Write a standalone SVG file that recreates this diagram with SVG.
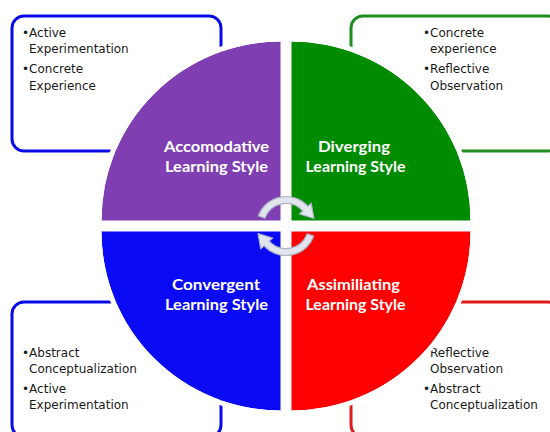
<svg xmlns="http://www.w3.org/2000/svg" width="550" height="432" viewBox="0 0 550 432">
<style>
.box{fill:#fff;stroke-width:3}
.bt{font-family:"DejaVu Sans",Verdana,sans-serif;font-size:12px;fill:#1a1a1a}
.lb{font-family:Lato,"Open Sans",sans-serif;font-weight:bold;font-size:16px;fill:#fff;text-anchor:middle}
.halo{fill:none;stroke:#fff;stroke-width:5}
.arr{fill:#e1e5ee;stroke:#a9b1c3;stroke-width:1.2;stroke-linejoin:round}
</style>
<rect width="550" height="432" fill="#fff"/>
<g id="box-tl">
<rect class="box" x="12" y="16" width="209" height="135" rx="12" stroke="#0a0ae6"/>
<text class="bt"><tspan x="22" y="36.5">•Active</tspan><tspan x="29" y="53">Experimentation</tspan><tspan x="22" y="73">•Concrete</tspan><tspan x="29" y="89.5">Experience</tspan></text>
</g>
<g id="box-tr">
<rect class="box" x="351" y="16" width="209" height="135" rx="12" stroke="#1f8c1f"/>
<text class="bt"><tspan x="423" y="36.5">•Concrete</tspan><tspan x="430" y="53">experience</tspan><tspan x="423" y="73">•Reflective</tspan><tspan x="430" y="89.5">Observation</tspan></text>
</g>
<g id="box-bl">
<rect class="box" x="12" y="302" width="209" height="135" rx="12" stroke="#0a0ae6"/>
<text class="bt"><tspan x="22" y="356.5">•Abstract</tspan><tspan x="29" y="373">Conceptualization</tspan><tspan x="22" y="392.5">•Active</tspan><tspan x="29" y="409">Experimentation</tspan></text>
</g>
<g id="box-br">
<rect class="box" x="351" y="302" width="209" height="135" rx="12" stroke="#e01a1a"/>
<text class="bt"><tspan x="430" y="356.5">Reflective</tspan><tspan x="430" y="373">Observation</tspan><tspan x="423" y="392.5">•Abstract</tspan><tspan x="430" y="409">Conceptualization</tspan></text>
</g>
<g id="accomodative">
<path d="M280.5,220.5 L101.5,220.5 A179,179 0 0 1 280.5,41.5 Z" fill="#7f3fb2"/>
<path class="halo" d="M99,220.5 A181.5,181.5 0 0 1 280.5,39"/>
<text class="lb"><tspan x="216.5" y="152" textLength="105" lengthAdjust="spacingAndGlyphs">Accomodative</tspan><tspan x="216.5" y="172" textLength="103" lengthAdjust="spacingAndGlyphs">Learning Style</tspan></text>
</g>
<g id="diverging">
<path d="M291.5,220.5 L291.5,41.5 A179,179 0 0 1 470.5,220.5 Z" fill="#008c00"/>
<path class="halo" d="M291.5,39 A181.5,181.5 0 0 1 473,220.5"/>
<text class="lb"><tspan x="354" y="152" textLength="72" lengthAdjust="spacingAndGlyphs">Diverging</tspan><tspan x="355.5" y="172" textLength="100" lengthAdjust="spacingAndGlyphs">Learning Style</tspan></text>
</g>
<g id="assimilating">
<path d="M291.5,231.5 L470.5,231.5 A179,179 0 0 1 291.5,410.5 Z" fill="#fe0000"/>
<path class="halo" d="M473,231.5 A181.5,181.5 0 0 1 291.5,413"/>
<text class="lb"><tspan x="353.5" y="290" textLength="93" lengthAdjust="spacingAndGlyphs">Assimiliating</tspan><tspan x="355.5" y="310" textLength="100" lengthAdjust="spacingAndGlyphs">Learning Style</tspan></text>
</g>
<g id="convergent">
<path d="M280.5,231.5 L280.5,410.5 A179,179 0 0 1 101.5,231.5 Z" fill="#0a0af5"/>
<path class="halo" d="M280.5,413 A181.5,181.5 0 0 1 99,231.5"/>
<text class="lb"><tspan x="216" y="290" textLength="88" lengthAdjust="spacingAndGlyphs">Convergent</tspan><tspan x="216.5" y="310" textLength="103" lengthAdjust="spacingAndGlyphs">Learning Style</tspan></text>
</g>
<g id="connectors">
<path class="arr" d="M258.28,215.91 A29.5,29.5 0 0 1 307.92,206.26 L311.27,203.25 L314,218.5 L299.38,213.96 L302.72,210.94 A22.5,22.5 0 0 0 264.86,218.3 Z"/>
<path class="arr" d="M313.72,236.09 A29.5,29.5 0 0 1 264.08,245.74 L260.73,248.75 L258,233.5 L272.62,238.04 L269.28,241.06 A22.5,22.5 0 0 0 307.14,233.7 Z"/>
</g>
</svg>
